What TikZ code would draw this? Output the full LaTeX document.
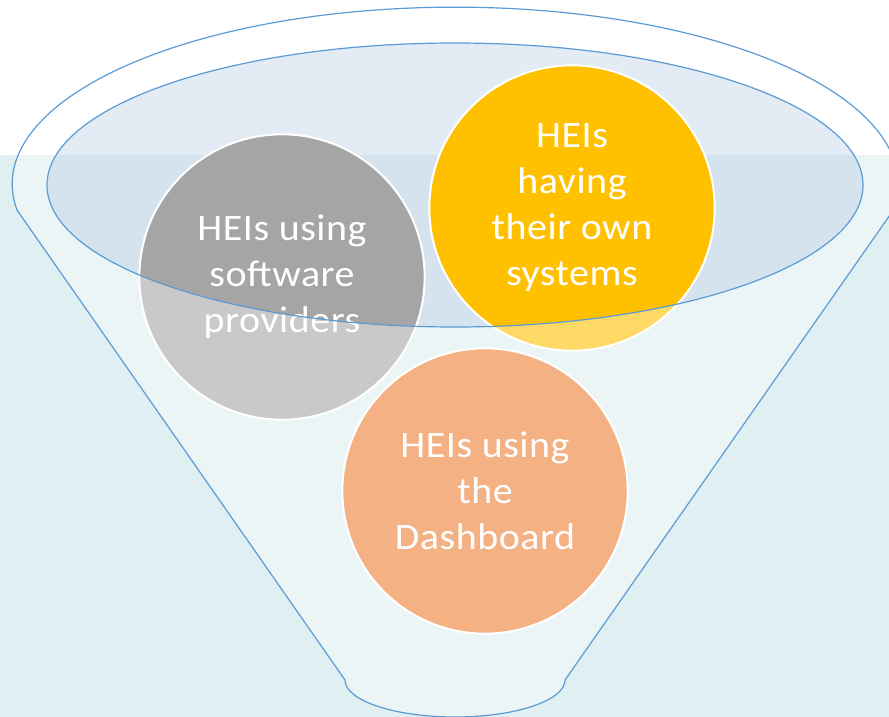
\documentclass[tikz,border=0pt]{standalone}
\usepackage{fontspec}
\setmainfont{Carlito}[FakeStretch=1.07, LetterSpace=1.5]
\definecolor{bgblue}{RGB}{224,239,241}
\definecolor{rimblue}{RGB}{91,155,213}
\definecolor{mouth}{RGB}{201,217,237}
\definecolor{hgray}{RGB}{165,165,165}
\definecolor{hgold}{RGB}{255,192,0}
\definecolor{horange}{RGB}{237,125,49}
\begin{document}
\begin{tikzpicture}[x=0.75pt, y=-0.75pt,
    group/.style={circle, draw=white, line width=1.5pt, minimum size=214pt, inner sep=0pt,
      text=white, align=center, font=\fontsize{28}{34.5}\selectfont}]
    \useasboundingbox (0,0) rectangle (889,717);
    \clip (0,0) rectangle (889,717);
    \fill[white] (0,0) rectangle (889,155);
    \fill[bgblue] (0,155) rectangle (889,717);
    \fill[mouth, opacity=0.5] (455,185) ellipse [x radius=408, y radius=142];
    \node[group, fill=hgray] (software) at (282,277) {HEIs using\\software\\providers};
    \node[group, fill=hgold] (own) at (572,208) {HEIs\\having\\their own\\systems};
    \node[group, fill=horange] (dashboard) at (485,491) {HEIs using\\the\\Dashboard};
    \fill[white, opacity=0.4, even odd rule] (17,210) arc [start angle=171.6, end angle=368.4, x radius=443, y radius=177]
      -- (565,680) arc [start angle=0, end angle=180, x radius=110, y radius=37] -- cycle
      (455,185) ellipse [x radius=408, y radius=142];
    \draw[rimblue, line width=0.9pt] (17,210) arc [start angle=171.6, end angle=368.4, x radius=443, y radius=177]
      -- (565,680) arc [start angle=0, end angle=180, x radius=110, y radius=37] -- cycle;
    \draw[rimblue, line width=0.9pt] (455,185) ellipse [x radius=408, y radius=142];
\end{tikzpicture}
\end{document}
